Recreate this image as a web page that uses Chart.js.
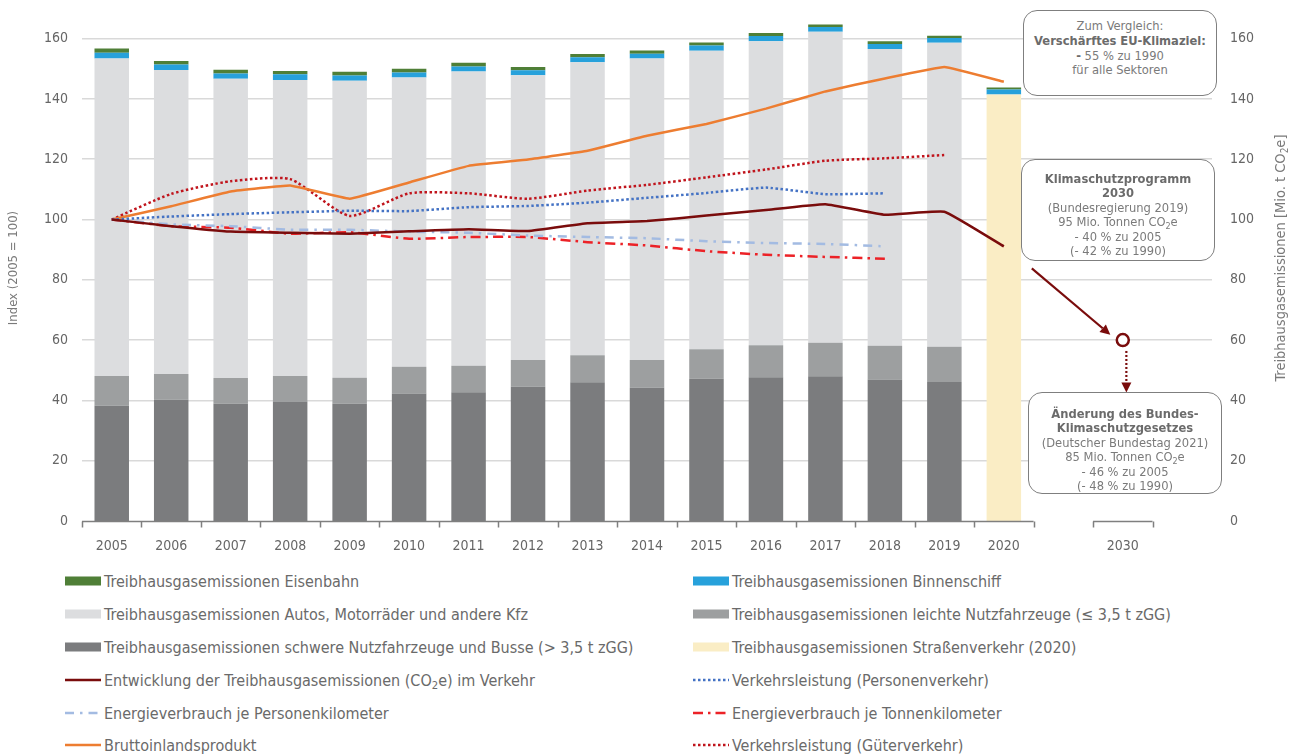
<!DOCTYPE html>
<html><head><meta charset="utf-8">
<script src="https://cdn.jsdelivr.net/npm/chart.js@4/dist/chart.umd.min.js"></script>
<style>
html,body{margin:0;padding:0;background:#fff;width:1296px;height:754px;overflow:hidden;}
#wrap{position:relative;width:1296px;height:754px;font-family:'DejaVu Sans Condensed','DejaVu Sans',sans-serif;}
#c{position:absolute;left:0;top:0;}
.box{position:absolute;border:1.5px solid #7f7f7f;border-radius:14px;background:#fff;text-align:center;color:#7a7a7a;font-size:12.8px;line-height:14.4px;box-sizing:border-box;white-space:nowrap;}
.box b{color:#6b6b6b}
.li{position:absolute;height:22px;display:flex;align-items:center;color:#6a6a6a;font-size:16px;white-space:nowrap;}
.li svg{margin-right:3px;flex:none}
sub{font-size:70%;vertical-align:-3px;line-height:0}
</style></head><body>
<div id="wrap">
<canvas id="c" width="1296" height="560"></canvas>
<div class="box" style="left:1023px;top:10px;width:194px;height:86px;padding-top:8px;line-height:14.8px;">Zum Vergleich:<br><b>Verschärftes EU-Klimaziel:</b><br><b>-</b> 55 % zu 1990<br>für alle Sektoren</div>
<div class="box" style="left:1021px;top:159px;width:194px;height:102px;padding-top:12px;"><b>Klimaschutzprogramm<br>2030</b><br>(Bundesregierung 2019)<br>95 Mio. Tonnen CO<sub>2</sub>e<br>- 40 % zu 2005<br>(- 42 % zu 1990)</div>
<div class="box" style="left:1028px;top:392px;width:194px;height:102px;padding-top:14px;"><b>Änderung des Bundes-<br>Klimaschutzgesetzes</b><br>(Deutscher Bundestag 2021)<br>85 Mio. Tonnen CO<sub>2</sub>e<br>- 46 % zu 2005<br>(- 48 % zu 1990)</div>
<div id="legend"></div>
</div>
<script>
// ---- data ----
const categories = ['2005','2006','2007','2008','2009','2010','2011','2012','2013','2014','2015','2016','2017','2018','2019','2020','','2030',''];
const yTicks = [0,20,40,60,80,100,120,140,160];
const leftTitle = 'Index (2005 = 100)';
const rightTitle = ['Treibhausgasemissionen [Mio. t CO','2','e]'];

// stacked bar segments (Mio. t CO2e)
const schwereNfz   = [38.2,40.2,38.9,39.6,38.9,42.3,42.7,44.5,46.0,44.2,47.2,47.7,48.0,46.9,46.1,null,null,null,null];
const leichteNfz   = [9.9,8.6,8.5,8.5,8.6,8.9,8.8,8.9,9.0,9.2,9.8,10.6,11.1,11.2,11.7,null,null,null,null];
const autos        = [105.3,100.8,99.3,98.2,98.5,95.9,97.6,94.5,97.2,100.0,99.0,100.8,103.2,98.5,100.8,null,null,null,null];
const strasse2020  = [null,null,null,null,null,null,null,null,null,null,null,null,null,null,null,141.5,null,null,null];
const binnenschiff = [1.9,1.8,1.7,1.9,1.8,1.7,1.7,1.6,1.6,1.6,1.7,1.8,1.6,1.6,1.6,1.6,null,null,null];
const eisenbahn    = [1.4,1.2,1.3,1.1,1.2,1.2,1.2,1.1,1.1,1.1,1.0,1.0,0.8,0.9,0.8,0.7,null,null,null];

// index lines (2005 = 100)
const entwicklungTHG = [100,97.8,96.0,95.6,95.3,96.1,96.8,96.2,98.8,99.5,101.3,103.2,105.1,101.6,102.6,91.1,null,null,null];
const ziel2030       = [null,null,null,null,null,null,null,null,null,null,null,null,null,null,null,null,null,60,null];
const personenVL     = [100,101.0,101.8,102.4,102.9,102.8,104.1,104.5,105.6,107.2,108.8,110.6,108.4,108.7,null,null,null,null,null];
const energiePkm     = [100,98.4,97.8,96.6,96.6,96.0,95.6,94.7,94.2,93.8,92.8,92.2,91.9,91.1,null,null,null,null,null];
const energieTkm     = [100,97.8,97.3,95.3,95.8,93.6,94.2,94.2,92.5,91.4,89.5,88.3,87.6,87.0,null,null,null,null,null];
const bip            = [100,104.4,109.3,111.3,106.9,112.3,117.8,119.9,122.8,127.8,131.7,136.8,142.5,146.8,150.6,145.7,null,null,null];
const gueterVL       = [100,108.5,112.7,113.4,101.2,108.7,108.7,106.9,109.6,111.5,114.0,116.6,119.5,120.3,121.4,null,null,null,null];

// annotation arrows: [category index, index value]
const arrowSolid  = {from:[15.47,83.8], to:[16.79,61.8]};
const arrowDotted = {from:[17.06,56.4], to:[17.06,42.6]};

const FONT = "'DejaVu Sans Condensed','DejaVu Sans',sans-serif";
const DR = '#7a0c0c';

function bar(label,data,color){return {type:'bar',label,data,backgroundColor:color,yAxisID:'y2',stack:'s',order:3,barPercentage:0.58,categoryPercentage:1,borderWidth:0};}
function line(label,data,color,dash,w,t){return {type:'line',label,data,borderColor:color,backgroundColor:color,borderDash:dash,borderWidth:w||2.5,pointRadius:0,tension:t===undefined?0.12:t,yAxisID:'y',order:1,spanGaps:false,fill:false};}

const datasets = [
  bar('Treibhausgasemissionen schwere Nutzfahrzeuge und Busse (> 3,5 t zGG)',schwereNfz,'#7b7c7e'),
  bar('Treibhausgasemissionen leichte Nutzfahrzeuge (≤ 3,5 t zGG)',leichteNfz,'#9d9fa0'),
  bar('Treibhausgasemissionen Autos, Motorräder und andere Kfz',autos,'#dcdddf'),
  bar('Treibhausgasemissionen Straßenverkehr (2020)',strasse2020,'#faedc5'),
  bar('Treibhausgasemissionen Binnenschiff',binnenschiff,'#27a1db'),
  bar('Treibhausgasemissionen Eisenbahn',eisenbahn,'#4f7f37'),
  line('Entwicklung der Treibhausgasemissionen (CO₂e) im Verkehr',entwicklungTHG,DR,[],2.5,0.1),
  line('Verkehrsleistung (Personenverkehr)',personenVL,'#4472c4',[2.5,2.5]),
  line('Energieverbrauch je Personenkilometer',energiePkm,'#a3bbe2',[9,6,2.5,6]),
  line('Energieverbrauch je Tonnenkilometer',energieTkm,'#ec2227',[10,5,2.5,5]),
  line('Bruttoinlandsprodukt',bip,'#ed7d31',[],2.5,0.08),
  line('Verkehrsleistung (Güterverkehr)',gueterVL,'#c0141c',[2.5,2.5],2.5,0.2),
  {type:'line',label:'Ziel 2030',data:ziel2030,showLine:false,pointRadius:6,pointBorderWidth:2.5,pointBorderColor:DR,pointBackgroundColor:'#fff',yAxisID:'y',order:0}
];

const legendOrder = [
 'Treibhausgasemissionen Eisenbahn','Treibhausgasemissionen Binnenschiff',
 'Treibhausgasemissionen Autos, Motorräder und andere Kfz','Treibhausgasemissionen leichte Nutzfahrzeuge (≤ 3,5 t zGG)',
 'Treibhausgasemissionen schwere Nutzfahrzeuge und Busse (> 3,5 t zGG)','Treibhausgasemissionen Straßenverkehr (2020)',
 'Entwicklung der Treibhausgasemissionen (CO₂e) im Verkehr','Verkehrsleistung (Personenverkehr)',
 'Energieverbrauch je Personenkilometer','Energieverbrauch je Tonnenkilometer',
 'Bruttoinlandsprodukt','Verkehrsleistung (Güterverkehr)'
];

const decor = {
  id:'decor',
  afterDatasetsDraw(chart){
    const ctx=chart.ctx, x=chart.scales.x, y=chart.scales.y;
    const cw = x.getPixelForValue(1)-x.getPixelForValue(0);
    const base = Math.round(y.getPixelForValue(0))+0.5;
    ctx.save();
    ctx.strokeStyle='#7f7f7f'; ctx.lineWidth=1.5;
    const segs=[[0,15],[17,17]];
    segs.forEach(([a,b])=>{
      const l=x.getPixelForValue(a)-cw/2, r=x.getPixelForValue(b)+cw/2;
      ctx.beginPath(); ctx.moveTo(l,base); ctx.lineTo(r,base); ctx.stroke();
      for(let i=a;i<=b+1;i++){const px=Math.round(x.getPixelForValue(i)-cw/2)+0.5; ctx.beginPath(); ctx.moveTo(px,base); ctx.lineTo(px,base+6); ctx.stroke();}
    });
    const P=(p)=>[x.getPixelForValue(0)+p[0]*cw, y.getPixelForValue(p[1])];
    function arrow(a,dash,w){
      const [x1,y1]=P(a.from),[x2,y2]=P(a.to);
      const ang=Math.atan2(y2-y1,x2-x1), hl=10, hw=5;
      const bx=x2-hl*Math.cos(ang), by=y2-hl*Math.sin(ang);
      ctx.strokeStyle=DR; ctx.fillStyle=DR; ctx.lineWidth=w; ctx.setLineDash(dash);
      ctx.beginPath(); ctx.moveTo(x1,y1); ctx.lineTo(bx,by); ctx.stroke();
      ctx.setLineDash([]);
      ctx.beginPath(); ctx.moveTo(x2,y2);
      ctx.lineTo(bx+hw*Math.sin(ang),by-hw*Math.cos(ang));
      ctx.lineTo(bx-hw*Math.sin(ang),by+hw*Math.cos(ang));
      ctx.closePath(); ctx.fill();
    }
    arrow(arrowSolid,[],2.2);
    arrow(arrowDotted,[2,2],2.2);
    ctx.fillStyle='#7a7a7a'; ctx.textBaseline='middle';
    ctx.font="13px "+FONT; ctx.textAlign='center';
    ctx.save(); ctx.translate(14,268); ctx.rotate(-Math.PI/2); ctx.fillText(leftTitle,0,0); ctx.restore();
    ctx.save(); ctx.translate(1281,258); ctx.rotate(-Math.PI/2);
    const f1="14.5px "+FONT, f2="10px "+FONT;
    ctx.font=f1; const w1=ctx.measureText(rightTitle[0]).width, w3=ctx.measureText(rightTitle[2]).width;
    ctx.font=f2; const w2=ctx.measureText(rightTitle[1]).width;
    let sx=-(w1+w2+w3)/2; ctx.textAlign='left';
    ctx.font=f1; ctx.fillText(rightTitle[0],sx,0); sx+=w1;
    ctx.font=f2; ctx.fillText(rightTitle[1],sx,4); sx+=w2;
    ctx.font=f1; ctx.fillText(rightTitle[2],sx,0);
    ctx.restore();
    ctx.restore();
  }
};

function noPad(s){s.paddingTop=0;s.paddingBottom=0;}

const chart = new Chart(document.getElementById('c'),{
  data:{labels:categories,datasets},
  options:{
    responsive:false,animation:false,devicePixelRatio:1,
    layout:{padding:{top:7.8,left:0,right:0,bottom:0}},
    plugins:{legend:{display:false},tooltip:{enabled:false}},
    scales:{
      x:{stacked:true,grid:{display:false},border:{display:false},
         ticks:{color:'#666',font:{family:FONT,size:14},padding:9,autoSkip:false,maxRotation:0},
         afterFit(s){s.height=39;}},
      y:{position:'left',min:0,max:170,
         afterBuildTicks(s){s.ticks=yTicks.map(v=>({value:v}));},
         grid:{color:c=>c.tick&&c.tick.value===0?'rgba(0,0,0,0)':'#d9d9d9',lineWidth:1.5,drawTicks:false},
         border:{display:false},
         ticks:{color:'#666',font:{family:FONT,size:14},padding:14},
         afterFit(s){s.width=82;noPad(s);}},
      y2:{position:'right',min:0,max:170,stacked:true,
         afterBuildTicks(s){s.ticks=yTicks.map(v=>({value:v}));},
         grid:{display:false},border:{display:false},
         ticks:{color:'#666',font:{family:FONT,size:14},padding:10},
         afterFit(s){s.width=84;noPad(s);}}
    }
  },
  plugins:[decor]
});

(function(){
  const lg=document.getElementById('legend');
  const cols=[65,693], rowY=[570,603,636,669,702,734];
  legendOrder.forEach((lab,i)=>{
    const ds=chart.data.datasets.find(d=>d.label===lab);
    let sw;
    if(ds.type==='bar'){sw=`<svg width="36" height="10"><rect x="0" y="0.5" width="36" height="9" fill="${ds.backgroundColor}"/></svg>`;}
    else{const da=(ds.borderDash&&ds.borderDash.length)?`stroke-dasharray="${ds.borderDash.join(',')}"`:'';
      sw=`<svg width="36" height="10"><line x1="0" y1="5" x2="36" y2="5" stroke="${ds.borderColor}" stroke-width="2.5" ${da}/></svg>`;}
    const d=document.createElement('div'); d.className='li';
    d.style.left=cols[i%2]+'px'; d.style.top=rowY[Math.floor(i/2)]+'px';
    d.innerHTML=sw+'<span>'+lab.replace('₂','<sub>2</sub>')+'</span>';
    lg.appendChild(d);
  });
})();
</script>
</body></html>
